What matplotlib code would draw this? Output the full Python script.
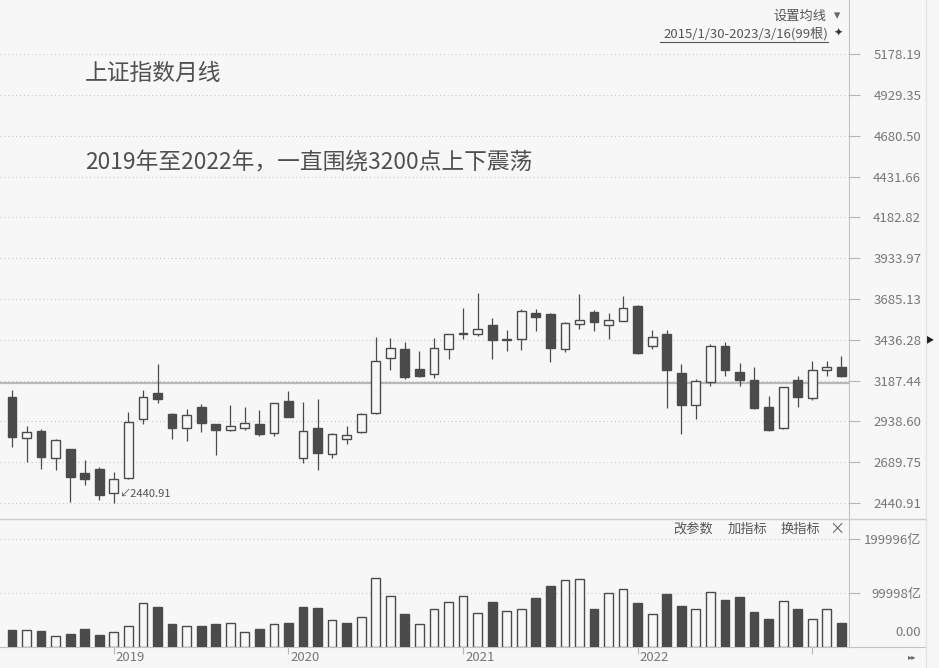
import numpy as np
import pandas as pd
import matplotlib.pyplot as plt
from matplotlib.lines import Line2D

plt.rcParams['font.family'] = ['Noto Sans CJK SC', 'DejaVu Sans']

# monthly bars, 2018-06 .. 2023-03
months = pd.period_range('2018-06', '2023-03', freq='M')
opens = [3085, 2840, 2882, 2713, 2768, 2622, 2646, 2500, 2593, 2952,
         3109, 2986, 2897, 3024, 2920, 2884, 2897, 2920, 2870, 3064,
         2714, 2900, 2741, 2833, 2872, 2990, 3323, 3382, 3258, 3225,
         3382, 3470, 3469, 3528, 3436, 3439, 3599, 3593, 3380, 3530,
         3606, 3526, 3551, 3644, 3400, 3470, 3232, 3040, 3177, 3396,
         3240, 3193, 3024, 2898, 3189, 3079, 3250, 3272]
highs = [3130, 2912, 2892, 2829, 2770, 2703, 2662, 2632, 2998, 3130,
         3288, 2988, 3012, 3043, 2922, 3036, 3026, 3008, 3050, 3124,
         3059, 3073, 2866, 2912, 2988, 3455, 3449, 3421, 3366, 3449,
         3474, 3632, 3724, 3571, 3494, 3622, 3626, 3597, 3545, 3718,
         3618, 3599, 3705, 3650, 3496, 3496, 3287, 3197, 3410, 3422,
         3293, 3272, 3095, 3150, 3217, 3306, 3306, 3337]
lows = [2784, 2689, 2648, 2642, 2445, 2551, 2459, 2440.91, 2589, 2923,
        3048, 2829, 2817, 2876, 2733, 2880, 2884, 2850, 2850, 2967,
        2683, 2642, 2713, 2800, 2868, 2984, 3255, 3197, 3211, 3205,
        3317, 3439, 3459, 3321, 3368, 3374, 3492, 3303, 3360, 3504,
        3492, 3439, 3548, 3350, 3380, 3022, 2860, 2951, 3154, 3217,
        3154, 3014, 2882, 2892, 3026, 3067, 3215, 3207]
closes = [2845, 2872, 2721, 2823, 2601, 2589, 2490, 2585, 2937, 3089,
          3073, 2897, 2978, 2931, 2884, 2908, 2927, 2864, 3048, 2967,
          2880, 2747, 2860, 2853, 2984, 3305, 3388, 3211, 3217, 3388,
          3469, 3478, 3500, 3433, 3440, 3612, 3577, 3386, 3540, 3558,
          3543, 3558, 3630, 3357, 3453, 3252, 3040, 3186, 3396, 3252,
          3193, 3020, 2888, 3147, 3087, 3252, 3270, 3215]
# turnover, 亿
volumes = [30190, 31450, 28300, 18870, 23900, 32070, 22010, 27670, 37730, 80500,
           74210, 42770, 37730, 37730, 42770, 44020, 27670, 32070, 42130, 44650,
           74220, 72330, 50320, 44660, 55350, 128900, 94340, 60380, 42140, 69820,
           82400, 94340, 63530, 82400, 66050, 69820, 90580, 113220, 124540, 126430,
           70450, 100640, 106930, 80510, 60380, 98750, 74850, 70450, 102530, 86800,
           92460, 64160, 52210, 84290, 70450, 52210, 69820, 44660]

price_ticks = [2440.91, 2689.75, 2938.60, 3187.44, 3436.28, 3685.13,
               3933.97, 4182.82, 4431.66, 4680.50, 4929.35, 5178.19]
vol_ticks = [99998, 199996]
vol_labels = ['99998亿', '199996亿']
year_labels = ['2019', '2020', '2021', '2022', '']
ref_level = 3175

BG = '#f7f7f7'
DARK = '#4b4b4b'
GRID = '#c9c9c9'
AXC = '#c2c2c2'
TXT = '#777777'
W, H = 939, 668


def fx(px):
    return px / W


def fy(py):
    return 1 - py / H


opens = np.array(opens, float)
highs = np.array(highs, float)
lows = np.array(lows, float)
closes = np.array(closes, float)
volumes = np.array(volumes, float)
x = np.arange(len(months))
up = closes >= opens
vol_up = closes >= np.r_[opens[0], closes[:-1]]

fig = plt.figure(figsize=(9.39, 6.68), dpi=100, facecolor=BG)
ax_p = fig.add_axes([0, fy(519), fx(849), 519 / H], facecolor=BG)
ax_v = fig.add_axes([0, fy(646.5), fx(849), (646.5 - 519) / H], facecolor=BG)

xlim = (-12 / 14.55, (849 - 12) / 14.55)

# ---- price panel
ax_p.vlines(x, lows, highs, color=DARK, lw=0.9, zorder=2)
body_lo = np.minimum(opens, closes)
body_h = np.maximum(np.abs(closes - opens), 5)
ax_p.bar(x, body_h, bottom=body_lo, width=0.6,
         color=np.where(up, BG, DARK), edgecolor=DARK, linewidth=1.0, zorder=3)
ax_p.axhline(ref_level, color='#b8b8b8', lw=1.6, zorder=1)
ax_p.set_xlim(*xlim)
ax_p.set_ylim(2343.3, 5508.7)
ax_p.set_yticks(price_ticks)
ax_p.set_yticklabels(['%.2f' % v for v in price_ticks])
ax_p.yaxis.tick_right()
ax_p.tick_params(axis='y', length=8, width=0.8, color='#b5b5b5', pad=44,
                 labelsize=9.5, labelcolor=TXT)
for lab in ax_p.get_yticklabels():
    lab.set_horizontalalignment('right')
ax_p.set_xticks([])
ax_p.grid(axis='y', ls=(0, (1, 2.5)), color=GRID, lw=0.8)
ax_p.set_axisbelow(True)
for s in ['top', 'left', 'bottom']:
    ax_p.spines[s].set_visible(False)
ax_p.spines['right'].set_color(AXC)

imin = int(np.argmin(lows))
ax_p.annotate('↙2440.91', xy=(imin, lows[imin]), xytext=(3.5, 6.5),
              textcoords='offset points', ha='left', va='center',
              fontsize=8, color='#555555')

# ---- volume panel
ax_v.bar(x, volumes, width=0.6, color=np.where(vol_up, BG, DARK),
         edgecolor=DARK, linewidth=1.0, zorder=3)
ax_v.set_xlim(*xlim)
ax_v.set_ylim(0, 238300)
ax_v.set_yticks(vol_ticks)
ax_v.set_yticklabels(vol_labels)
ax_v.yaxis.tick_right()
ax_v.tick_params(axis='y', length=8, width=0.8, color='#b5b5b5', pad=44,
                 labelsize=9.5, labelcolor=TXT)
for lab in ax_v.get_yticklabels():
    lab.set_horizontalalignment('right')
ax_v.grid(axis='y', ls=(0, (1, 2.5)), color=GRID, lw=0.8)
ax_v.set_axisbelow(True)
year_pos = [i for i, m in enumerate(months) if m.month == 1]
ax_v.set_xticks(year_pos)
ax_v.tick_params(axis='x', length=5, width=0.8, color='#b5b5b5', labelbottom=False)
for p, lab in zip(year_pos, year_labels):
    ax_v.annotate(lab, xy=(p, 0), xycoords=('data', 'axes fraction'),
                  xytext=(1.5, -3), textcoords='offset points',
                  ha='left', va='top', fontsize=9.5, color=TXT)
for s in ['top', 'left']:
    ax_v.spines[s].set_visible(False)
ax_v.spines['right'].set_color(AXC)
ax_v.spines['bottom'].set_color(AXC)

# ---- frame lines
fig.add_artist(Line2D([0, fx(926)], [fy(519), fy(519)], color='#cccccc', lw=1.0))
fig.add_artist(Line2D([fx(849), fx(926)], [fy(646.5), fy(646.5)], color=AXC, lw=0.8))
fig.add_artist(Line2D([fx(926), fx(926)], [0, 1], color='#e4e4e4', lw=1.0))

# ---- texts
fig.text(fx(85), fy(73), '上证指数月线', fontsize=16.4, color='#505050', va='center')
fig.text(fx(85), fy(163), '2019年至2022年，一直围绕3200点上下震荡',
         fontsize=16.4, color='#505050', va='center')

fig.text(fx(826), fy(16), '设置均线', fontsize=9.5, color='#555555',
         ha='right', va='center')
fig.text(fx(837), fy(16), '▾', fontsize=9, color='#666666', ha='center', va='center')
fig.text(fx(828), fy(34), '2015/1/30-2023/3/16(99根)', fontsize=9.5,
         color='#555555', ha='right', va='center')
fig.add_artist(Line2D([fx(660), fx(828)], [fy(42), fy(42)], color='#555555', lw=0.8))
fig.text(fx(838), fy(33), '✦', fontsize=8, color='#333333', ha='center', va='center')

for label, px in [('改参数', 713), ('加指标', 767), ('换指标', 820)]:
    fig.text(fx(px), fy(529), label, fontsize=9.5, color='#555555',
             ha='right', va='center')
fig.text(fx(837), fy(529), '×', fontsize=11, color='#666666', ha='center', va='center')

fig.text(fx(921), fy(633), '0.00', fontsize=9.5, color=TXT, ha='right', va='center')
fig.text(fx(930), fy(340), '▶', fontsize=6, color='#222222', ha='center', va='center')
fig.text(fx(912), fy(657), '▸▸', fontsize=6, color='#666666', ha='center', va='center')

fig.savefig('out.png', dpi=100, facecolor=BG)
